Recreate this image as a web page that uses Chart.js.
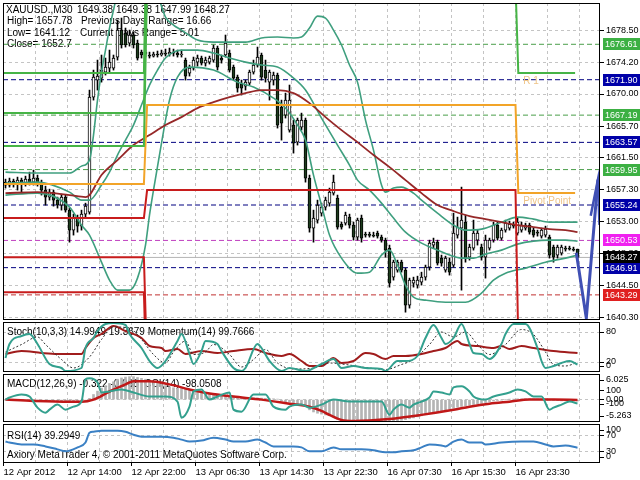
<!DOCTYPE html>
<html>
<head>
<meta charset="utf-8">
<title>XAUUSD.,M30</title>
<script src="https://cdn.jsdelivr.net/npm/chart.js@4.4.1/dist/chart.umd.min.js"></script>
<style>
  body { margin: 0; background: #fff; }
  #wrap { position: relative; width: 640px; height: 480px; background: #fff; }
  #wrap canvas { position: absolute; left: 0; top: 0; }
</style>
</head>
<body>
<div id="wrap">
  <canvas id="mainChart" width="640" height="480"></canvas>
  <canvas id="stochChart" width="640" height="480"></canvas>
  <canvas id="macdChart" width="640" height="480"></canvas>
  <canvas id="rsiChart" width="640" height="480"></canvas>
</div>
<script>
// time axis labels, one every 16 bars (M30)
const timeLabels = ['12 Apr 2012', '12 Apr 14:00', '12 Apr 22:00', '13 Apr 06:30', '13 Apr 14:30',
  '13 Apr 22:30', '16 Apr 07:30', '16 Apr 15:30', '16 Apr 23:30'];

// price axis ticks
const priceTicks = [1640.3, 1644.5, 1648.8, 1653.0, 1657.3, 1661.5, 1665.7, 1670.0, 1674.2, 1678.5];

// candles, bar 0 .. 143
const openP = [
  1658.28, 1657.89, 1658.42, 1658.02, 1658.55, 1658.15, 1658.68, 1658.28, 1658.82, 1658.15,
  1657.22, 1656.29, 1656.95, 1655.89, 1655.23, 1656.29, 1654.56, 1651.90, 1653.50, 1652.43,
  1654.03, 1654.29, 1669.59, 1671.85, 1672.12, 1672.91, 1673.45, 1673.45, 1674.91, 1678.50,
  1678.10, 1676.77, 1677.84, 1676.77, 1675.57, 1675.31, 1675.18, 1675.04, 1675.31, 1675.18,
  1675.44, 1675.31, 1675.57, 1675.44, 1675.18, 1674.51, 1672.78, 1673.45, 1674.24, 1674.78,
  1674.11, 1674.24, 1674.51, 1676.11, 1674.78, 1675.18, 1675.44, 1673.58, 1672.25, 1671.32,
  1671.05, 1671.45, 1672.91, 1673.85, 1675.18, 1673.18, 1671.58, 1671.85, 1672.52, 1668.26,
  1667.20, 1665.20, 1665.87, 1663.60, 1665.60, 1666.53, 1658.82, 1652.17, 1653.23, 1654.16,
  1654.96, 1655.49, 1656.82, 1656.16, 1652.70, 1652.83, 1653.63, 1652.57, 1650.97, 1653.50,
  1651.37, 1651.24, 1651.24, 1651.50, 1650.97, 1650.57, 1649.51, 1645.65, 1646.58, 1647.64,
  1646.58, 1641.93, 1644.85, 1644.59, 1644.98, 1645.65, 1646.98, 1649.91, 1650.30, 1648.18,
  1646.58, 1647.64, 1647.25, 1651.24, 1652.17, 1652.96, 1648.31, 1649.51, 1650.57, 1649.64,
  1648.31, 1649.51, 1650.57, 1652.57, 1650.84, 1651.90, 1652.17, 1652.57, 1651.50, 1651.90,
  1652.17, 1652.57, 1651.90, 1651.63, 1651.10, 1651.24, 1650.97, 1649.64, 1648.58, 1648.84,
  1649.51, 1649.51, 1649.37, 1649.38
];
const highP = [
  1658.68, 1658.82, 1658.68, 1658.95, 1658.82, 1659.08, 1659.61, 1659.88, 1659.22, 1658.55,
  1657.75, 1657.35, 1657.22, 1656.29, 1656.69, 1656.56, 1654.83, 1654.03, 1653.90, 1654.56,
  1655.49, 1670.52, 1673.18, 1674.51, 1675.18, 1674.78, 1675.84, 1675.18, 1679.83, 1680.10,
  1678.77, 1678.50, 1678.23, 1677.17, 1675.84, 1675.84, 1675.57, 1675.57, 1675.71, 1675.84,
  1675.97, 1676.11, 1675.97, 1675.84, 1675.84, 1674.78, 1673.85, 1674.91, 1675.18, 1675.04,
  1674.91, 1675.04, 1676.51, 1676.37, 1675.18, 1677.84, 1675.84, 1673.85, 1672.52, 1671.85,
  1671.85, 1673.18, 1674.51, 1676.24, 1675.44, 1674.51, 1673.18, 1672.91, 1672.78, 1669.19,
  1670.12, 1671.19, 1666.53, 1666.80, 1667.46, 1666.80, 1659.22, 1654.56, 1655.89, 1655.49,
  1656.29, 1657.49, 1659.22, 1656.56, 1652.96, 1654.29, 1654.03, 1652.96, 1653.50, 1653.90,
  1651.63, 1651.63, 1651.63, 1651.77, 1651.24, 1650.84, 1649.91, 1647.91, 1647.91, 1647.91,
  1646.85, 1645.52, 1645.65, 1645.78, 1646.31, 1647.25, 1650.57, 1650.84, 1650.57, 1648.58,
  1648.44, 1648.18, 1654.16, 1653.63, 1657.62, 1653.90, 1650.04, 1653.23, 1651.90, 1650.04,
  1651.24, 1650.84, 1652.96, 1652.96, 1652.17, 1653.23, 1653.10, 1652.96, 1653.50, 1652.96,
  1652.83, 1652.83, 1652.17, 1651.90, 1652.17, 1652.43, 1651.24, 1649.91, 1649.91, 1649.91,
  1649.77, 1649.77, 1649.64, 1649.38
];
const lowP = [
  1657.49, 1657.62, 1657.62, 1657.22, 1656.82, 1657.75, 1657.89, 1657.89, 1657.75, 1656.56,
  1655.23, 1655.89, 1655.09, 1654.83, 1654.56, 1654.29, 1650.30, 1651.24, 1651.63, 1651.90,
  1653.50, 1654.03, 1669.19, 1670.52, 1671.58, 1672.52, 1672.91, 1673.18, 1674.51, 1676.11,
  1676.24, 1676.37, 1676.11, 1674.51, 1674.78, 1674.91, 1674.78, 1674.91, 1674.91, 1675.04,
  1675.04, 1675.04, 1675.04, 1674.91, 1674.91, 1671.85, 1672.38, 1673.18, 1673.71, 1673.85,
  1673.71, 1673.98, 1674.24, 1673.18, 1674.11, 1674.91, 1672.91, 1671.85, 1670.25, 1669.86,
  1670.52, 1671.19, 1672.65, 1673.58, 1671.85, 1671.58, 1669.19, 1671.19, 1665.47, 1663.87,
  1666.80, 1664.93, 1662.14, 1663.21, 1665.20, 1658.28, 1651.63, 1650.30, 1652.83, 1653.76,
  1654.56, 1655.09, 1656.56, 1652.03, 1652.03, 1652.57, 1652.17, 1650.57, 1650.57, 1650.30,
  1650.97, 1650.97, 1650.97, 1650.84, 1650.30, 1648.31, 1644.32, 1645.25, 1646.31, 1646.31,
  1640.99, 1641.53, 1644.32, 1644.19, 1644.59, 1645.25, 1646.58, 1649.51, 1647.25, 1647.11,
  1646.31, 1645.92, 1646.98, 1650.84, 1643.92, 1647.64, 1647.91, 1649.24, 1649.91, 1647.91,
  1645.52, 1649.24, 1650.30, 1650.57, 1650.57, 1651.63, 1651.90, 1652.17, 1651.24, 1651.63,
  1651.90, 1651.37, 1650.97, 1651.10, 1650.84, 1650.97, 1648.18, 1647.64, 1648.18, 1648.58,
  1649.11, 1649.24, 1649.11, 1647.99
];
const closeP = [
  1657.89, 1658.42, 1658.02, 1658.55, 1658.15, 1658.68, 1658.28, 1658.82, 1658.15, 1657.22,
  1656.29, 1656.95, 1655.89, 1655.23, 1656.29, 1654.56, 1651.90, 1653.50, 1652.43, 1654.03,
  1655.09, 1669.59, 1672.25, 1672.38, 1673.18, 1673.58, 1674.24, 1674.78, 1678.50, 1676.51,
  1676.51, 1677.84, 1676.51, 1674.78, 1675.18, 1675.57, 1675.04, 1675.31, 1675.18, 1675.44,
  1675.31, 1675.57, 1675.44, 1675.18, 1675.31, 1672.38, 1673.45, 1674.51, 1674.78, 1674.11,
  1674.51, 1674.78, 1676.11, 1673.58, 1674.51, 1676.77, 1673.18, 1672.12, 1670.79, 1670.79,
  1671.58, 1672.91, 1673.85, 1674.91, 1672.25, 1672.12, 1672.91, 1672.52, 1665.87, 1666.13,
  1669.19, 1669.19, 1663.47, 1666.53, 1666.53, 1658.82, 1652.17, 1653.50, 1655.23, 1654.96,
  1655.89, 1656.95, 1658.28, 1652.30, 1652.30, 1653.90, 1652.57, 1650.97, 1653.23, 1650.84,
  1651.24, 1651.20, 1651.10, 1651.10, 1650.57, 1649.24, 1644.85, 1647.64, 1647.64, 1646.58,
  1641.93, 1645.25, 1645.25, 1645.25, 1645.65, 1646.98, 1650.17, 1650.30, 1647.51, 1647.51,
  1648.18, 1646.31, 1651.50, 1652.30, 1653.23, 1648.18, 1649.64, 1651.50, 1651.50, 1648.31,
  1650.57, 1650.57, 1652.57, 1650.84, 1651.90, 1652.83, 1652.70, 1652.43, 1652.96, 1652.57,
  1652.57, 1651.63, 1651.24, 1651.50, 1651.90, 1652.03, 1648.58, 1648.31, 1649.64, 1649.64,
  1649.37, 1649.37, 1649.24, 1648.27
];

// moving average (read at these bars)
const maIdx = [0, 8, 16, 20, 21, 24, 28, 32, 36, 40, 44, 48, 52, 56, 60, 64, 68, 72, 76, 80, 84, 88,
  92, 96, 100, 104, 108, 112, 116, 120, 124, 128, 132, 136, 140, 143];
const maVals = [1656.82, 1656.95, 1656.56, 1656.29, 1656.56, 1659.22, 1661.21, 1663.21, 1664.54, 1665.87,
  1666.93, 1668.13, 1668.92, 1669.59, 1670.12, 1670.52, 1670.52, 1670.12, 1668.79, 1666.93, 1665.20,
  1663.60, 1661.88, 1660.28, 1658.55, 1656.82, 1655.23, 1654.43, 1653.76, 1653.36, 1652.96, 1652.57,
  1652.30, 1652.03, 1651.90, 1651.63];

// bollinger bands
const bbUpIdx = [0, 8, 16, 19, 21, 22, 23, 24, 25, 26, 27, 28, 30, 34, 38, 40, 42, 44, 48, 52, 56, 60, 64,
  68, 72, 74, 76, 78, 80, 82, 84, 86, 88, 90, 92, 94, 95, 97, 99, 102, 104, 108, 112, 115, 119, 124, 128,
  132, 136, 140, 143];
const bbUpVals = [1659.61, 1659.49, 1659.49, 1660.41, 1661.21, 1664.54, 1669.19, 1672.91, 1675.84, 1678.77,
  1681.16, 1683.55, 1686.48, 1686.48, 1683.16, 1680.23, 1679.17, 1678.50, 1677.17, 1676.90, 1676.90,
  1676.90, 1677.44, 1677.57, 1677.44, 1677.57, 1678.77, 1680.36, 1680.10, 1678.50, 1676.51, 1673.85,
  1671.58, 1666.53, 1662.54, 1657.89, 1656.95, 1657.49, 1657.62, 1656.82, 1655.89, 1654.16, 1652.57,
  1651.90, 1652.03, 1652.96, 1653.63, 1653.36, 1652.96, 1652.96, 1652.96];
const bbMidIdx = [0, 8, 16, 19, 21, 24, 26, 28, 30, 32, 34, 36, 38, 40, 42, 44, 48, 52, 56, 60, 64, 68, 72,
  75, 79, 83, 86, 88, 91, 94, 97, 100, 104, 108, 111, 114, 117, 120, 124, 128, 132, 136, 140, 143];
const bbMidVals = [1658.15, 1658.28, 1656.95, 1655.89, 1655.89, 1657.89, 1659.61, 1661.88, 1663.87, 1665.87,
  1668.53, 1671.19, 1673.18, 1674.78, 1675.57, 1675.84, 1675.84, 1675.44, 1674.78, 1674.24, 1673.85,
  1673.58, 1672.12, 1670.52, 1666.80, 1663.21, 1660.55, 1658.55, 1657.22, 1655.49, 1653.50, 1651.63,
  1650.17, 1649.24, 1648.58, 1648.18, 1648.18, 1648.71, 1649.24, 1650.04, 1650.44, 1650.57, 1650.57,
  1650.44];
const bbLowIdx = [0, 8, 16, 19, 21, 24, 26, 28, 31, 33, 35, 36, 37, 39, 41, 43, 46, 52, 58, 62, 67, 70, 73,
  75, 77, 79, 81, 84, 88, 91, 94, 96, 98, 100, 102, 105, 110, 115, 119, 122, 125, 130, 135, 140, 143];
const bbLowVals = [1656.56, 1656.82, 1654.96, 1652.57, 1651.24, 1647.64, 1645.25, 1643.92, 1643.92, 1645.52,
  1649.91, 1653.90, 1657.22, 1663.47, 1669.19, 1672.25, 1673.58, 1673.18, 1671.58, 1670.92, 1669.46,
  1668.13, 1665.87, 1663.87, 1659.22, 1655.23, 1651.24, 1648.18, 1646.18, 1646.31, 1648.58, 1649.24,
  1647.25, 1644.59, 1642.99, 1642.59, 1642.32, 1642.32, 1643.52, 1645.25, 1646.18, 1646.85, 1647.64,
  1648.18, 1648.58];

// daily pivot levels (three sessions)
const dayStart = [-0.5, 35.4, 128.2];
const dayEnd = [34.6, 127.5, 142.4];
const pivotP = [1658.02, 1668.53, 1656.82];
const res1 = [1663.07, 1684.60, 1672.78];
const res2 = [1667.46, 1690.20, 1688.40];
const res3 = [1672.78, 1695.80, 1694.10];
const sup1 = [1653.50, 1657.22, 1636.80];
const sup2 = [1648.31, 1633.50, 1631.20];
const sup3 = [1643.65, 1628.70, 1625.40];

// horizontal price levels with labels on the price axis
const levelValues = [1676.61, 1671.90, 1667.19, 1663.57, 1659.95, 1655.24, 1650.53, 1646.91, 1643.29];
const levelKinds = ['green', 'navy', 'green', 'navy', 'green', 'navy', 'magenta', 'navy', 'red'];
const lastPrice = 1648.27;

// forecast arrow
const fcIdx = [142.7, 145.2, 148.1];
const fcVals = [1648.9, 1640.2, 1658.6];
const fcHeadIdx = [146.3, 148.1, 148.5];
const fcHeadVals = [1653.8, 1658.6, 1652.6];

// stochastic / momentum
const stIdx = [0, 1, 4, 6, 8, 11, 14, 15, 19, 20, 22, 23, 25, 27, 30, 31, 34, 36, 38, 40, 43, 44, 46, 47, 49,
  50, 53, 54, 57, 59, 60, 63, 64, 66, 69, 71, 75, 79, 82, 84, 87, 90, 94, 95, 98, 100, 103, 105, 107, 109,
  110, 112, 114, 116, 117, 119, 121, 124, 125, 127, 130, 133, 134, 135, 137, 139, 141, 143];
const stVals = [28, 56, 72, 76, 56, 16, 8, 2, 8, 48, 68, 82, 96, 98, 94, 76, 48, 22, 8, 22, 62, 76, 36, 16, 42,
  62, 56, 42, 8, 2, 8, 56, 48, 22, 2, 8, 2, 16, 26, 8, 12, 8, 6, 2, 22, 22, 32, 68, 94, 68,
  56, 68, 96, 56, 38, 36, 26, 56, 76, 96, 96, 48, 22, 8, 12, 18, 22, 14.99];
const sgIdx = [0, 4, 8, 10, 14, 17, 21, 24, 27, 31, 34, 37, 40, 42, 45, 47, 50, 52, 56, 59, 62, 65, 68, 72, 77,
  81, 85, 90, 95, 99, 102, 106, 109, 112, 115, 118, 121, 125, 129, 132, 135, 137, 140, 143];
const sgVals = [40, 55, 70, 55, 25, 8, 30, 65, 90, 88, 65, 35, 18, 40, 62, 35, 40, 55, 35, 10, 25, 45, 18, 6, 8,
  18, 15, 9, 5, 15, 25, 55, 80, 70, 80, 55, 35, 55, 85, 75, 40, 15, 12, 19.37];
const momIdx = [0, 4, 9, 13, 19, 20, 22, 24, 27, 30, 34, 36, 39, 40, 43, 45, 49, 53, 57, 62, 65, 69, 71, 74,
  76, 79, 82, 84, 87, 90, 92, 95, 97, 100, 104, 107, 110, 113, 114, 118, 122, 124, 126, 129, 132, 137, 143];
const momVals = [99.72, 99.87, 99.77, 99.72, 99.72, 100.02, 100.52, 100.72, 101.12, 100.87, 100.52, 100.12,
  100.02, 99.87, 99.97, 99.72, 99.87, 99.77, 99.87, 99.97, 99.77, 99.62, 99.72, 99.37, 99.12, 99.12, 99.52,
  99.27, 99.37, 99.77, 99.72, 99.47, 99.62, 99.62, 99.72, 99.87, 100.02, 100.37, 100.22, 100.12, 100.02,
  100.12, 99.97, 100.12, 100.02, 99.87, 99.77];

// MACD histogram (every bar), signal, CCI
const macdHist = [
  -0.05, -0.08, -0.10, -0.10, -0.12, -0.12, -0.10, -0.10, -0.15, -0.20,
  -0.25, -0.30, -0.35, -0.40, -0.45, -0.50, -0.60, -0.60, -0.60, -0.55,
  -0.50, 0.30, 1.20, 2.00, 2.70, 3.30, 3.80, 4.20, 4.80, 5.10,
  5.30, 5.40, 5.40, 5.20, 5.00, 4.80, 4.50, 4.20, 3.90, 3.60,
  3.30, 3.00, 2.80, 2.70, 2.60, 2.40, 2.20, 2.00, 1.80, 1.60,
  1.50, 1.30, 1.20, 1.10, 1.00, 0.90, 0.80, 0.70, 0.60, 0.55,
  0.50, 0.45, 0.40, 0.40, 0.35, 0.30, 0.25, 0.20, 0.10, -0.30,
  -0.50, -0.60, -0.90, -1.00, -1.10, -1.60, -2.40, -2.90, -3.20, -3.40,
  -3.60, -3.80, -4.10, -4.60, -5.00, -5.20, -5.20, -5.20, -5.20, -5.26,
  -5.26, -5.26, -5.26, -5.26, -5.26, -5.26, -5.20, -5.10, -5.00, -4.85,
  -4.70, -4.50, -4.30, -4.05, -3.80, -3.55, -3.30, -3.05, -2.80, -2.60,
  -2.40, -2.20, -2.00, -1.80, -1.60, -1.45, -1.30, -1.15, -1.00, -0.90,
  -0.70, -0.50, -0.30, -0.20, -0.10, 0.00, 0.10, 0.10, 0.20, 0.20,
  0.20, 0.20, 0.10, 0.10, 0.10, 0.10, -0.10, -0.20, -0.20, -0.30,
  -0.30, -0.30, -0.30, -0.322
];
const sigIdx = [0, 7, 16, 19, 22, 26, 30, 32, 36, 41, 46, 51, 57, 64, 71, 76, 79, 81, 84, 87, 96, 104, 112,
  116, 121, 126, 131, 137, 143];
const sigVals = [0.0, -0.3, -0.5, -0.5, 0.0, 1.91, 3.59, 4.31, 4.31, 3.59, 2.39, 1.44, 0.72, 0.0, -0.96, -1.67,
  -2.63, -3.59, -4.78, -5.02, -4.55, -3.59, -2.39, -1.67, -0.96, -0.48, 0.0, 0.0, -0.068];
const cciIdx = [0, 1, 4, 6, 8, 10, 11, 13, 15, 17, 19, 20, 21, 23, 24, 26, 29, 32, 36, 40, 43, 44, 46, 47, 49,
  51, 53, 56, 57, 59, 62, 65, 67, 70, 71, 74, 76, 79, 82, 86, 89, 94, 96, 97, 99, 101, 102, 104, 106, 107,
  109, 111, 112, 114, 116, 117, 120, 122, 126, 128, 130, 132, 134, 136, 137, 139, 141, 143];
const cciVals = [-38, -8, 38, 8, -162, -238, -192, -115, -192, -146, -69, 269, 285, 223, 69, 85, 115, 69, 8, 8,
  -69, -315, -146, 85, 115, -38, 8, 69, -192, -223, 38, 38, -146, -192, -146, -115, -162, -115, -38, -69,
  -69, -69, -269, -192, -115, -162, -115, -69, -8, 85, 69, 38, 146, 162, 85, 8, -38, 8, 69, 115,
  85, 8, 8, -192, -162, -115, -69, -98.05];

// RSI
const rsiIdx = [0, 1, 4, 7, 10, 13, 15, 18, 20, 21, 22, 24, 28, 30, 32, 34, 39, 42, 44, 46, 49, 52, 55, 57, 60,
  63, 65, 67, 69, 72, 74, 76, 79, 82, 84, 89, 92, 95, 97, 99, 102, 104, 106, 109, 110, 112, 114, 116, 119,
  120, 124, 129, 132, 135, 137, 140, 143];
const rsiVals = [55, 52.5, 47.5, 47.5, 42.5, 35, 30, 40, 52.5, 77.5, 80, 82.5, 82.5, 80, 72.5, 67.5, 67.5, 65, 60,
  55, 57.5, 65, 60, 55, 55, 60, 52.5, 42.5, 42.5, 42.5, 40, 30, 30, 40, 35, 35, 32.5, 27.5, 27.5, 30,
  32.5, 40, 47.5, 45, 42.5, 55, 60, 52.5, 52.5, 47.5, 52.5, 55, 55, 47.5, 42.5, 45, 39.29];

// ---------------------------------------------------------------
const FONT = '"Liberation Sans", Arial, sans-serif';
Chart.defaults.font.family = FONT;
Chart.defaults.font.size = 9;
Chart.defaults.color = '#000';
Chart.defaults.animation = false;
Chart.defaults.events = [];

const X_MIN = -0.625;
const X_MAX = 148.625;
const AXIS_W = 40;
const GRID = '#c4c4c4';
const BEAR = '#1d3d1d';
const BAND = '#3f9f7f';

const gridTicks = [];
for (let v = -0.5; v <= X_MAX; v += 8) gridTicks.push(v);

const pts = (xs, ys) => xs.map((x, i) => ({ x: x, y: ys[i] }));
const stepLine = vals => {
  const out = [];
  vals.forEach((v, d) => { out.push({ x: dayStart[d], y: v }, { x: dayEnd[d], y: v }); });
  return out;
};

const levelStyle = {
  green: { line: '#4a9e4a', box: '#3cb043' },
  navy: { line: '#000080', box: '#0000a8' },
  magenta: { line: '#c040c0', box: '#f020f0' },
  red: { line: '#c03030', box: '#e02020' }
};

// bar datasets switch the index scale to offset mode, so it is turned off here
const xScale = showTime => ({
  type: 'linear', min: X_MIN, max: X_MAX, offset: false,
  afterBuildTicks: s => { s.ticks = gridTicks.map(v => ({ value: v })); },
  afterFit: s => { s.height = showTime ? 17 : 0; s.paddingLeft = 0; s.paddingRight = 0; },
  grid: {
    offset: false, color: GRID, drawTicks: showTime, tickLength: 3,
    tickColor: c => (c.index % 2 === 0 && timeLabels[c.index / 2]) ? '#000' : 'rgba(0,0,0,0)'
  },
  border: { display: false, dash: [3, 3] },
  ticks: {
    display: showTime, autoSkip: false, maxRotation: 0, align: 'start', padding: 1,
    font: { size: 9.5 },
    callback: (v, i) => i % 2 ? '' : (timeLabels[i / 2] || '')
  }
});

const rightScale = (min, max, ticks, fmt) => ({
  type: 'linear', position: 'right', min: min, max: max, beginAtZero: false,
  afterBuildTicks: s => { s.ticks = ticks.map(v => ({ value: v })); },
  afterFit: s => { s.width = AXIS_W; s.paddingTop = 0; s.paddingBottom = 0; },
  grid: { color: GRID, tickLength: 4, tickColor: '#000' },
  border: { display: false, dash: [3, 3] },
  ticks: { padding: 2, autoSkip: false, callback: fmt || (v => String(v)) }
});

const lineSet = (data, color, width, extra) => Object.assign({
  type: 'line', data: data, borderColor: color, borderWidth: width,
  pointRadius: 0, fill: false, cubicInterpolationMode: 'monotone'
}, extra || {});

// plugins
const frame = {
  id: 'frame',
  afterDraw(chart) {
    const { ctx, chartArea: a } = chart;
    ctx.save();
    ctx.strokeStyle = '#000';
    ctx.lineWidth = 1;
    ctx.strokeRect(a.left + 0.5, a.top + 0.5, a.width - 1, a.height - 1);
    ctx.restore();
  }
};

const captions = (id, items) => ({
  id: id,
  beforeDatasetsDraw(chart) {
    const { ctx } = chart;
    ctx.save();
    ctx.font = '10px ' + FONT;
    ctx.fillStyle = '#000';
    ctx.textBaseline = 'middle';
    items.forEach(([text, x, y]) => ctx.fillText(text, x, y));
    ctx.restore();
  }
});

// labels at the ends of a panel scale are kept inside the panel, as the terminal does
const sideLabels = (id, items) => ({
  id: id,
  afterDraw(chart) {
    const { ctx, chartArea: a } = chart;
    ctx.save();
    ctx.font = '9px ' + FONT;
    ctx.fillStyle = '#000';
    ctx.textBaseline = 'middle';
    items.forEach(([axis, value, text]) => {
      const py = chart.scales[axis].getPixelForValue(value);
      const y = Math.min(Math.max(py, a.top + 6), a.bottom - 6);
      ctx.fillRect(a.right, Math.round(y), 4, 1);
      ctx.fillText(text, a.right + 6, y);
    });
    ctx.restore();
  }
});

const priceBoxes = {
  id: 'priceBoxes',
  afterDraw(chart) {
    const { ctx, chartArea: a, scales: { y } } = chart;
    ctx.save();
    ctx.font = '9px ' + FONT;
    ctx.textBaseline = 'middle';
    const box = (v, color) => {
      const py = Math.round(y.getPixelForValue(v));
      ctx.fillStyle = color;
      ctx.fillRect(a.right + 3, py - 6, AXIS_W - 3, 12);
      ctx.fillStyle = '#fff';
      ctx.fillText(v.toFixed(2), a.right + 5, py + 0.5);
    };
    levelValues.forEach((v, i) => box(v, levelStyle[levelKinds[i]].box));
    box(lastPrice, '#000');
    ctx.restore();
  },
  afterDatasetsDraw(chart) {
    const { ctx, scales: { x, y } } = chart;
    ctx.save();
    ctx.font = '10px ' + FONT;
    ctx.fillStyle = '#eec488';
    ctx.textBaseline = 'middle';
    const x0 = x.getPixelForValue(dayStart[2]) + 5;
    ctx.fillText('R 1', x0, y.getPixelForValue(res1[2]) + 8);
    ctx.fillText('Pivot Point', x0, y.getPixelForValue(pivotP[2]) + 8);
    ctx.restore();
  }
};

const panel = (id, top, bottom, showTime, scales, datasets, plugins) => new Chart(document.getElementById(id), {
  type: 'line',
  data: { datasets: datasets },
  options: {
    responsive: false,
    layout: { autoPadding: false, padding: { left: 3, right: 0, top: top, bottom: showTime ? 0 : 480 - bottom } },
    scales: Object.assign({ x: xScale(showTime) }, scales),
    plugins: { legend: { display: false }, tooltip: { enabled: false } }
  },
  plugins: [frame].concat(plugins)
});

// ---------------- main price panel ----------------
const barIdx = openP.map((_, i) => i);
const isBull = i => closeP[i] >= openP[i];

const mainSets = [];
levelValues.forEach((v, i) => {
  mainSets.push(lineSet([{ x: X_MIN, y: v }, { x: X_MAX, y: v }], levelStyle[levelKinds[i]].line, 1,
    { order: 60, borderDash: [5, 3], cubicInterpolationMode: 'default' }));
});
mainSets.push(lineSet([{ x: X_MIN, y: lastPrice }, { x: X_MAX, y: lastPrice }], '#b4b4b4', 1,
  { order: 59, cubicInterpolationMode: 'default' }));
mainSets.push({
  type: 'bar', order: 50, grouped: false, barThickness: 1,
  data: barIdx.map(i => ({ x: i, y: [lowP[i], highP[i]] })),
  backgroundColor: '#000', borderWidth: 0
});
mainSets.push({
  type: 'bar', order: 49, grouped: false, barThickness: 3, minBarLength: 1,
  data: barIdx.map(i => ({ x: i, y: [openP[i], closeP[i]] })),
  backgroundColor: c => isBull(c.dataIndex) ? '#fff' : BEAR,
  borderColor: '#000', borderWidth: 1, borderSkipped: false
});
mainSets.push(lineSet(pts(bbUpIdx, bbUpVals), BAND, 1.6, { order: 40 }));
mainSets.push(lineSet(pts(bbMidIdx, bbMidVals), BAND, 1.6, { order: 40 }));
mainSets.push(lineSet(pts(bbLowIdx, bbLowVals), BAND, 1.6, { order: 40 }));
mainSets.push(lineSet(pts(maIdx, maVals), '#962828', 1.8, { order: 35 }));
[res1, res2, res3].forEach(r => mainSets.push(lineSet(stepLine(r), '#46b446', 2,
  { order: 30, cubicInterpolationMode: 'default' })));
mainSets.push(lineSet(stepLine(pivotP), '#f2a428', 2, { order: 30, cubicInterpolationMode: 'default' }));
[sup1, sup2, sup3].forEach(s => mainSets.push(lineSet(stepLine(s), '#c81c1c', 2,
  { order: 30, cubicInterpolationMode: 'default' })));
mainSets.push(lineSet(pts(fcIdx, fcVals), '#4050b4', 3, { order: 20, cubicInterpolationMode: 'default' }));
mainSets.push(lineSet(pts(fcHeadIdx, fcHeadVals), '#4050b4', 2.5, { order: 20, cubicInterpolationMode: 'default' }));

panel('mainChart', 3, 320, false, {
  y: rightScale(1639.95, 1682.1, priceTicks, v => v.toFixed(2))
}, mainSets, [
  captions('mainText', [
    ['XAUUSD.,M30', 6, 10], ['1649.38 1649.38 1647.99 1648.27', 77, 10],
    ['High= 1657.78', 7, 21], ['Previous Days Range= 16.66', 81, 21],
    ['Low= 1641.12', 7, 33], ['Current Days Range= 5.01', 80, 33],
    ['Close= 1652.7', 7, 44]
  ]),
  priceBoxes
]);

// ---------------- stochastic + momentum ----------------
panel('stochChart', 322, 372, false, {
  y: rightScale(0, 100, [20, 80]),
  yMom: { type: 'linear', display: false, min: 98.82, max: 101.32 }
}, [
  lineSet(pts(momIdx, momVals), '#a01c1c', 2, { yAxisID: 'yMom', order: 3 }),
  lineSet(pts(sgIdx, sgVals), '#303030', 1, { borderDash: [2, 2], order: 2 }),
  lineSet(pts(stIdx, stVals), '#33a08e', 2, { order: 1 })
], [
  captions('stochText', [['Stoch(10,3,3) 14.9949 19.3679 Momentum(14) 99.7666', 7, 332]]),
  sideLabels('stochSide', [['y', 0, '0']])
]);

// ---------------- MACD + CCI ----------------
panel('macdChart', 374, 422, false, {
  y: rightScale(-5.263, 6.025, [0], v => v.toFixed(2)),
  yCci: { type: 'linear', display: false, min: -380, max: 350 }
}, [
  { type: 'bar', order: 3, barThickness: 2, data: barIdx.map(i => ({ x: i, y: macdHist[i] })),
    backgroundColor: '#b4b4b4', borderWidth: 0 },
  lineSet(pts(sigIdx, sigVals), '#c01818', 2.5, { order: 2 }),
  lineSet(pts(cciIdx, cciVals), '#33a08e', 2, { yAxisID: 'yCci', order: 1 })
], [
  captions('macdText', [['MACD(12,26,9) -0.322 -0.068  CCI(14) -98.0508', 7, 384]]),
  sideLabels('macdSide', [['y', 6.025, '6.025'], ['yCci', 100, '100'], ['yCci', -100, '-100'], ['y', -5.263, '-5.263']])
]);

// ---------------- RSI ----------------
panel('rsiChart', 424, 463, true, {
  y: rightScale(0, 100, [30, 70])
}, [
  lineSet(pts(rsiIdx, rsiVals), '#3a80c4', 2)
], [
  captions('rsiText', [['RSI(14) 39.2949', 7, 436],
    ['Axiory MetaTrader 4, \u00a9 2001-2011 MetaQuotes Software Corp.', 7, 455]]),
  sideLabels('rsiSide', [['y', 100, '100'], ['y', 0, '0']])
]);
</script>
</body>
</html>
